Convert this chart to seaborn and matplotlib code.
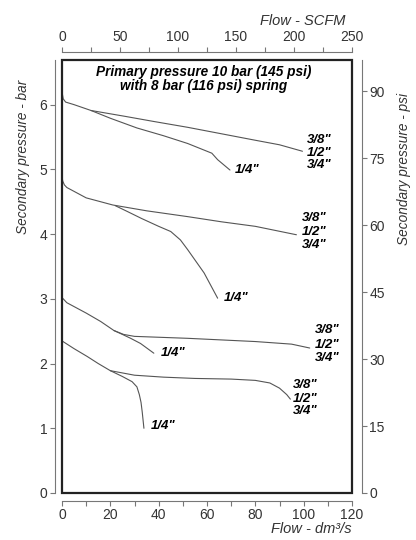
import pandas as pd
import matplotlib
matplotlib.use('Agg')
import matplotlib.pyplot as plt
import seaborn as sns
from matplotlib.patches import Rectangle
from matplotlib.ticker import MultipleLocator

# 曲线数据 (dm3/s, bar)
g1_main_x = [0, 0.5, 1.5, 5, 12, 26, 38, 52, 66, 80, 90, 99.5]
g1_main_y = [6.20, 6.09, 6.04, 6.00, 5.91, 5.82, 5.74, 5.65, 5.55, 5.45, 5.38, 5.28]
g1_q_x = [12, 20, 31, 42, 52, 58, 62, 64.4, 69.5]
g1_q_y = [5.91, 5.79, 5.64, 5.52, 5.40, 5.31, 5.25, 5.15, 4.99]

g2_main_x = [0, 0.3, 1, 2, 4, 10, 21, 35, 52, 66, 80, 97]
g2_main_y = [4.89, 4.82, 4.76, 4.72, 4.68, 4.56, 4.45, 4.36, 4.27, 4.19, 4.12, 3.99]
g2_q_x = [22, 27, 33, 40, 45, 49, 52, 58.8, 64.4]
g2_q_y = [4.44, 4.35, 4.24, 4.12, 4.04, 3.91, 3.76, 3.40, 3.01]

g3_main_x = [0, 2, 6, 10, 16, 21.5, 25.5, 30, 52, 80, 95, 102.5]
g3_main_y = [3.02, 2.94, 2.86, 2.78, 2.65, 2.51, 2.45, 2.42, 2.39, 2.34, 2.30, 2.24]
g3_q_x = [21.5, 25, 28.4, 32.5, 38]
g3_q_y = [2.51, 2.45, 2.39, 2.31, 2.16]

g4_main_x = [0, 5, 10.4, 15, 20, 30, 42, 55, 70, 80, 86, 90, 93, 94.5]
g4_main_y = [2.35, 2.23, 2.11, 2.00, 1.89, 1.82, 1.79, 1.77, 1.76, 1.74, 1.70, 1.62, 1.52, 1.45]
g4_q_x = [20, 25, 29, 31, 32, 32.7, 33.2, 33.9]
g4_q_y = [1.89, 1.80, 1.72, 1.64, 1.52, 1.40, 1.25, 1.00]

curves = {
    'g1_main': (g1_main_x, g1_main_y), 'g1_q': (g1_q_x, g1_q_y),
    'g2_main': (g2_main_x, g2_main_y), 'g2_q': (g2_q_x, g2_q_y),
    'g3_main': (g3_main_x, g3_main_y), 'g3_q': (g3_q_x, g3_q_y),
    'g4_main': (g4_main_x, g4_main_y), 'g4_q': (g4_q_x, g4_q_y),
}
rows = []
for name, (xs, ys) in curves.items():
    for i, (x, y) in enumerate(zip(xs, ys)):
        rows.append({'curve': name, 'order': i, 'flow': x, 'pressure': y})
df = pd.DataFrame(rows)

# 标签位置
size_labels = ['3/8"', '1/2"', '3/4"']
stack_x = [101.3, 99.4, 104.5, 95.5]
stack_y = [[5.46, 5.25, 5.07], [4.25, 4.04, 3.83], [2.52, 2.29, 2.08], [1.67, 1.46, 1.26]]
quarter_x = [71.3, 67.1, 40.9, 36.7]
quarter_y = [4.99, 3.02, 2.17, 1.04]

sns.set_style('white')
plt.rcParams['font.family'] = ['Liberation Sans', 'DejaVu Sans']

fig = plt.figure(figsize=(4.16, 5.40), dpi=100)
ax = fig.add_axes([62 / 416, 47 / 540, 290 / 416, 433 / 540])

sns.lineplot(data=df, x='flow', y='pressure', units='curve', estimator=None,
             sort=False, color='#555555', linewidth=0.8, ax=ax)

ax.set_xlim(0, 120)
ax.set_ylim(0, 6.69)
ax.set_xlabel('')
ax.set_ylabel('')

# 外框
ax.add_patch(Rectangle((0, 0), 1, 1, transform=ax.transAxes, fill=False,
                       ec='#222222', lw=1.6, clip_on=False, zorder=5))

spine_c = '#777777'
for s in ['top', 'right']:
    ax.spines[s].set_visible(False)
ax.spines['left'].set_position(('outward', 5))
ax.spines['bottom'].set_position(('outward', 5.5))
for s in ['left', 'bottom']:
    ax.spines[s].set_color(spine_c)
    ax.spines[s].set_linewidth(0.8)

ax.xaxis.set_major_locator(MultipleLocator(20))
ax.xaxis.set_minor_locator(MultipleLocator(10))
ax.yaxis.set_major_locator(MultipleLocator(1))
ax.tick_params(axis='both', which='both', direction='out', length=3.6, width=0.8,
               color=spine_c, labelsize=10, labelcolor='#333333', pad=2)
ax.tick_params(axis='x', which='both', bottom=True)
ax.tick_params(axis='y', which='both', left=True)

# 顶部 SCFM
top = ax.secondary_xaxis(1.019, functions=(lambda x: x * 250 / 120, lambda s: s * 120 / 250))
top.xaxis.set_major_locator(MultipleLocator(50))
top.xaxis.set_minor_locator(MultipleLocator(25))
top.spines['top'].set_color(spine_c)
top.spines['top'].set_linewidth(0.8)
top.tick_params(axis='x', which='both', direction='out', length=3.6, width=0.8,
                color=spine_c, labelsize=10, labelcolor='#333333', pad=2)

# 右侧 psi
right = ax.secondary_yaxis(1.0335, functions=(lambda b: b * 14.5, lambda p: p / 14.5))
right.yaxis.set_major_locator(MultipleLocator(15))
right.spines['right'].set_color(spine_c)
right.spines['right'].set_linewidth(0.8)
right.tick_params(axis='y', which='both', direction='out', length=3.6, width=0.8,
                  color=spine_c, labelsize=10, labelcolor='#333333', pad=2)

# 注释文字
lab = dict(fontsize=9.5, fontweight='bold', style='italic', color='black',
           ha='left', va='center')
for sx, sys_ in zip(stack_x, stack_y):
    for t, yy in zip(size_labels, sys_):
        ax.text(sx, yy, t, **lab)
for qx, qy in zip(quarter_x, quarter_y):
    ax.text(qx, qy, '1/4"', **lab)

ax.text(58.5, 6.40, 'Primary pressure 10 bar (145 psi)\nwith 8 bar (116 psi) spring',
        fontsize=9.8, fontweight='bold', style='italic', ha='center', va='center',
        linespacing=1.0, color='black')

# 轴标题
fig.text(345 / 416, 1 - 21 / 540, 'Flow - SCFM', ha='right', va='center',
         fontsize=10.5, style='italic', color='#333333')
fig.text(352 / 416, 1 - 529 / 540, 'Flow - dm\u00b3/s', ha='right', va='center',
         fontsize=10.5, style='italic', color='#333333')
fig.text(23 / 416, 1 - 157 / 540, 'Secondary pressure - bar', rotation=90,
         ha='center', va='center', fontsize=9.8, style='italic', color='#333333')
fig.text(404 / 416, 1 - 169 / 540, 'Secondary pressure - psi', rotation=90,
         ha='center', va='center', fontsize=9.8, style='italic', color='#333333')

fig.savefig('out.png', dpi=100, facecolor='white')
